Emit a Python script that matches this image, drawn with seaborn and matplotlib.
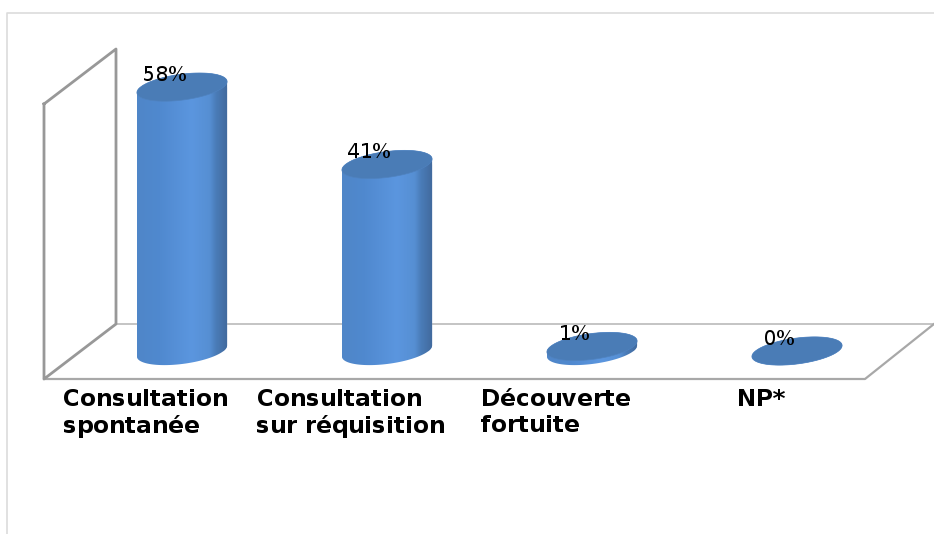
import numpy as np
import matplotlib
matplotlib.use("Agg")
import matplotlib.pyplot as plt
import matplotlib.transforms as mtrans
from matplotlib.colors import LinearSegmentedColormap
from matplotlib.lines import Line2D
from matplotlib.patches import Polygon
import seaborn as sns

# Data
categories = ["Consultation\nspontanée", "Consultation\nsur réquisition", "Découverte\nfortuite", "NP*"]
values = [58, 41, 1, 0]

W, H = 934, 534
PX_PER_PCT = 4.55

sns.set_theme(style="white")
plt.rcParams["font.family"] = ["DejaVu Sans"]
plt.rcParams["text.hinting"] = "native"
plt.rcParams["text.hinting_factor"] = 1

fig = plt.figure(figsize=(W / 100, H / 100), dpi=100, facecolor="white")
ax = fig.add_axes([79.5 / W, (H - 387.4) / H, 820 / W, (387.4 - 32.5) / H])
ax.patch.set_visible(False)

sns.barplot(x=categories, y=values, color="#5089cf", width=0.44, saturation=1, ax=ax)
ax.set_xlim(-0.5, 3.5)
ax.set_ylim(-8, 70)
ax.set_ylabel("")
ax.set_yticks([])
sns.despine(ax=ax, left=True, bottom=True)


# 3D frame, in pixels of the picture
def frame_line(xs, ys, color, lw):
    fig.add_artist(Line2D([x / W for x in xs], [1 - y / H for y in ys],
                          color=color, lw=lw, zorder=-1, solid_capstyle="projecting"))


frame_line([7, 7, 934], [534, 13, 13], "#dcdcdc", 1.2)
frame_line([116, 934], [324, 324], "#c4c4c4", 1.4)
frame_line([934, 865, 44], [324, 379, 379], "#a8a8a8", 1.6)
frame_line([44, 116, 116, 44, 44], [104, 49, 324, 379, 104], "#989898", 2.0)

# Cylinders on top of the seaborn bars
shade = LinearSegmentedColormap.from_list("cyl", [
    (0.0, "#4f86c8"), (0.25, "#5089cf"), (0.6, "#5b96df"),
    (0.8, "#568fd3"), (0.87, "#4a7cb8"), (1.0, "#41699c"),
])
gradient = np.linspace(0, 1, 256).reshape(1, -1)
tilt = 5.5 / PX_PER_PCT
minor = 13 / PX_PER_PCT

for bar, value in zip(ax.patches, values):
    left = bar.get_x()
    bar_w = bar.get_width()
    cx = left + bar_w / 2

    t_low = np.linspace(np.pi, 2 * np.pi, 60)
    t_up = np.linspace(0, np.pi, 60)
    low = np.column_stack([cx + bar_w / 2 * np.cos(t_low), minor * np.sin(t_low) + tilt * np.cos(t_low)])
    up = np.column_stack([cx + bar_w / 2 * np.cos(t_up), value + minor * np.sin(t_up) + tilt * np.cos(t_up)])

    body = Polygon(np.vstack([low, up]), closed=True, facecolor="none", edgecolor="none", transform=ax.transData)
    ax.add_patch(body)
    bar.set_clip_path(body)
    im = ax.imshow(gradient, cmap=shade, aspect="auto", zorder=2,
                   extent=(left, left + bar_w, -minor - tilt, value + minor + tilt))
    im.set_clip_path(body)

    t_all = np.linspace(0, 2 * np.pi, 120)
    top = np.column_stack([cx + bar_w / 2 * np.cos(t_all), value + minor * np.sin(t_all) + tilt * np.cos(t_all)])
    ax.add_patch(Polygon(top, closed=True, facecolor="#4a7cb6", edgecolor="#4f82bf", lw=0.5, zorder=3))

ax.set_xlim(-0.5, 3.5)
ax.set_ylim(-8, 70)

# Value labels
for i, value in enumerate(values):
    ax.annotate(f"{value}%", xy=(i, value), xytext=(-17 * 0.72, 11.5 * 0.72), textcoords="offset points",
                ha="center", va="center", fontsize=14.4, color="black", zorder=5)

# Category labels, left aligned and shifted left of the bars
ax.tick_params(axis="x", length=0, pad=1)
shift = mtrans.ScaledTranslation(-36 / 100, 0, fig.dpi_scale_trans)
for label in ax.get_xticklabels():
    label.set_fontsize(16.5)
    label.set_fontweight("bold")
    label.set_color("black")
    label.set_multialignment("left")
    label.set_linespacing(1.25)
    label.set_transform(label.get_transform() + shift)

fig.savefig("out.png", dpi=100)
